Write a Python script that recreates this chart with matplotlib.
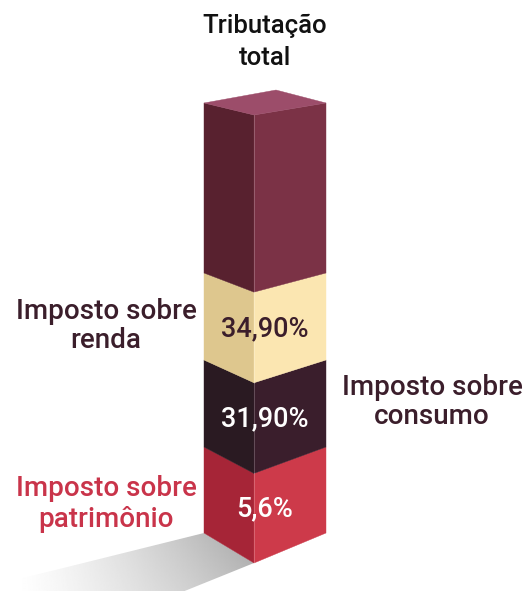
import matplotlib.pyplot as plt
import numpy as np
from matplotlib.patches import Polygon

# stacked segments, bottom to top
segments = ["Imposto sobre patrimônio", "Imposto sobre consumo", "Imposto sobre renda", "Outros"]
values = ["5,6%", "31,90%", "34,90%", ""]
# visual heights of each block (pixels)
heights = [86, 87, 87, 170]

left_cols = ["#a62537", "#2a1a22", "#dec78e", "#58212f"]
right_cols = ["#cd3a4a", "#3a1e2c", "#fbe6b1", "#7b3246"]
value_cols = ["white", "white", "#3b1e2b", "white"]

plt.rcParams['font.family'] = ['Roboto', 'DejaVu Sans']

fig = plt.figure(figsize=(5.26, 5.91), dpi=100)
ax = fig.add_axes([0, 0, 1, 1])
ax.set_xlim(0, 526)
ax.set_ylim(591, 0)
ax.axis("off")

x_left, x_front, x_right = 204, 254, 326
base = 533


def drop(y):
    # front corner sits lower than the side edges, more so further down
    return 12 + (y - 103) * 18 / 430


# shadow with gradient
shadow = Polygon([(204, 533), (254, 563), (150, 605), (15, 605), (15, 580)],
                 closed=True, facecolor="none", edgecolor="none")
ax.add_patch(shadow)
gx = np.linspace(0, 1, 200)
gy = np.linspace(0, 1, 60)
GX, GY = np.meshgrid(gx, gy)
shade = 1 - 0.36 * GX ** 1.2 * (1 - 0.3 * GY)
img = ax.imshow(shade, cmap="gray", vmin=0, vmax=1, extent=[15, 260, 605, 530],
                aspect="auto", zorder=1)
img.set_clip_path(shadow)

tops = base - np.cumsum(heights)
bottoms = tops + np.array(heights)
for i in range(len(heights)):
    yt, yb = tops[i], bottoms[i]
    left = Polygon([(x_left, yb), (x_front, yb + drop(yb)), (x_front, yt + drop(yt)), (x_left, yt)],
                   closed=True, facecolor=left_cols[i], edgecolor=left_cols[i], lw=0.3, zorder=2)
    right = Polygon([(x_front, yb + drop(yb)), (x_right, yb), (x_right, yt), (x_front, yt + drop(yt))],
                    closed=True, facecolor=right_cols[i], edgecolor=right_cols[i], lw=0.3, zorder=2)
    ax.add_patch(left)
    ax.add_patch(right)
    ax.plot([x_front, x_front], [yb + drop(yb), yt + drop(yt)], color="white", alpha=0.25, lw=0.6, zorder=3)
    if values[i]:
        ax.text(265, (yt + yb) / 2 + (drop(yt) + drop(yb)) / 2 - 9, values[i], color=value_cols[i],
                fontsize=19.5, fontweight="medium", ha="center", va="center", zorder=4)

# top face
ytop = tops[-1]
top = Polygon([(x_left, ytop), (276, ytop - 13), (x_right, ytop), (x_front, ytop + drop(ytop))],
              closed=True, facecolor="#9c4d6a", edgecolor="#9c4d6a", lw=0.3, zorder=2)
ax.add_patch(top)

ax.text(265, 42, "Tributação\ntotal", ha="center", va="center", fontsize=18.5, fontweight="medium",
        color="#111111", linespacing=1.45)
ax.text(106, 326, "Imposto sobre\nrenda", ha="center", va="center", fontsize=20, fontweight="medium",
        color="#3b1e2b", linespacing=1.1)
ax.text(432, 402, "Imposto sobre\nconsumo", ha="center", va="center", fontsize=20, fontweight="medium",
        color="#3b1e2b", linespacing=1.1)
ax.text(106, 504, "Imposto sobre\npatrimônio", ha="center", va="center", fontsize=20, fontweight="medium",
        color="#c9344a", linespacing=1.15)

fig.savefig("out.png", dpi=100)
